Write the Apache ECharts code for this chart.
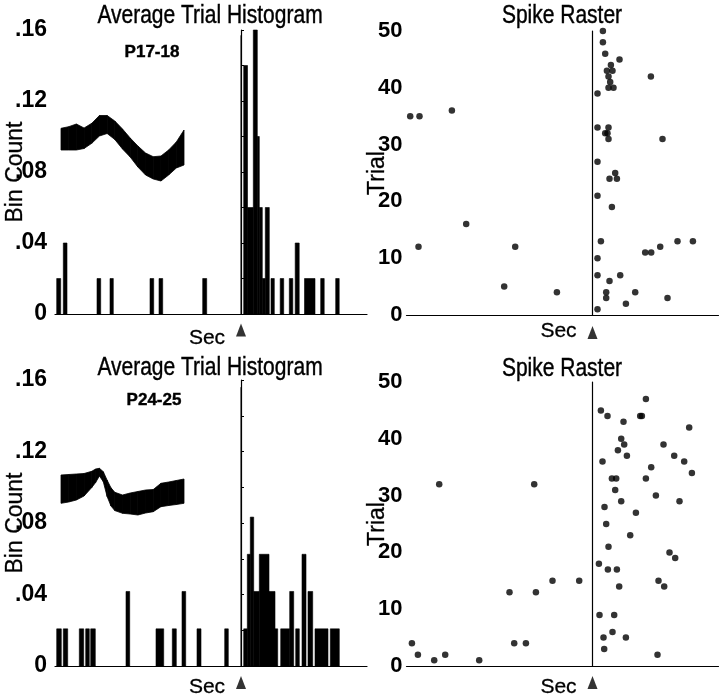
<!DOCTYPE html>
<html>
<head>
<meta charset="utf-8">
<script src="https://cdn.jsdelivr.net/npm/echarts@6/dist/echarts.min.js"></script>
<style>
html,body{margin:0;padding:0;background:#fff;}
#chart{width:720px;height:700px;}
</style>
</head>
<body>
<div id="chart"></div>
<script>
// ---------- DATA ----------
// Histogram bins: [binStartSec, binEndSec, binCount]  (stimulus at 0 s)
const histTopBins = [
  [-1.843, -1.803, 0.02], [-1.777, -1.740, 0.04], [-1.440, -1.403, 0.02],
  [-1.310, -1.277, 0.02], [-0.910, -0.873, 0.02], [-0.820, -0.783, 0.02],
  [-0.383, -0.343, 0.02],
  [0.027, 0.065, 0.14], [0.065, 0.123, 0.06], [0.123, 0.163, 0.16],
  [0.163, 0.183, 0.10], [0.183, 0.213, 0.06], [0.213, 0.243, 0.02],
  [0.243, 0.283, 0.06], [0.300, 0.333, 0.02], [0.392, 0.427, 0.02],
  [0.483, 0.518, 0.02], [0.542, 0.582, 0.04], [0.635, 0.740, 0.02],
  [0.797, 0.832, 0.02], [0.947, 0.982, 0.02]
];
const histBottomBins = [
  [-1.843, -1.797, 0.0208], [-1.777, -1.733, 0.0208], [-1.617, -1.573, 0.0208],
  [-1.553, -1.517, 0.0208], [-1.503, -1.457, 0.0208], [-1.150, -1.113, 0.0417],
  [-0.850, -0.773, 0.0208], [-0.687, -0.647, 0.0208], [-0.590, -0.553, 0.0417],
  [-0.440, -0.400, 0.0208], [-0.163, -0.127, 0.0208],
  [0.027, 0.063, 0.0208], [0.063, 0.093, 0.0625], [0.093, 0.127, 0.0833],
  [0.127, 0.183, 0.0417], [0.183, 0.280, 0.0625], [0.280, 0.340, 0.0417],
  [0.340, 0.367, 0.0208], [0.397, 0.487, 0.0208], [0.487, 0.527, 0.0417],
  [0.547, 0.583, 0.0208], [0.610, 0.650, 0.0625], [0.670, 0.717, 0.0417],
  [0.740, 0.870, 0.0208], [0.893, 0.983, 0.0208]
];
// Spike raster: [timeSec, trial]
const rasterTop = [
  [-1.823, 35], [-1.730, 35], [-1.740, 12], [-1.406, 36], [-1.263, 16],
  [-0.883, 5], [-0.773, 12], [-0.356, 4],
  [0.104, 50], [0.104, 48], [0.127, 46], [0.270, 45], [0.184, 44], [0.144, 43],
  [0.200, 43], [0.160, 42], [0.177, 41], [0.160, 40], [0.210, 40], [0.050, 39],
  [0.584, 42], [0.050, 33], [0.160, 33], [0.127, 32], [0.150, 32], [0.160, 31],
  [0.700, 31], [0.050, 27], [0.227, 25], [0.170, 24], [0.244, 24], [0.050, 21],
  [0.194, 19], [0.084, 13], [0.050, 10], [0.050, 7], [0.277, 7], [0.170, 6],
  [0.137, 4], [0.137, 3], [0.334, 2], [0.427, 4], [0.050, 1], [0.527, 11],
  [0.587, 11], [0.677, 12], [0.850, 13], [1.004, 13], [0.750, 3]
];
const rasterBottom = [
  [-1.806, 4], [-1.746, 2], [-1.583, 1], [-1.473, 2], [-1.533, 32], [-1.133, 1],
  [-0.830, 13], [-0.783, 4], [-0.666, 4], [-0.583, 32], [-0.566, 13],
  [-0.400, 15], [-0.133, 15],
  [0.084, 45], [0.150, 44], [0.100, 36], [0.120, 28], [0.137, 25], [0.160, 21],
  [0.064, 18], [0.154, 17], [0.070, 9], [0.110, 5], [0.117, 3], [0.200, 6],
  [0.217, 9], [0.334, 5], [0.244, 17], [0.267, 14], [0.194, 33], [0.237, 33],
  [0.227, 31], [0.254, 38], [0.287, 40], [0.317, 39], [0.310, 43], [0.344, 37],
  [0.287, 29], [0.434, 27], [0.377, 23], [0.477, 44], [0.494, 44], [0.534, 47],
  [0.587, 35], [0.534, 33], [0.634, 30], [0.660, 15], [0.717, 14], [0.650, 2],
  [0.710, 39], [0.770, 20], [0.827, 19], [0.817, 37], [0.870, 29], [0.917, 36],
  [0.967, 42], [0.994, 34]
];
// Spike waveform insets: sample index, upper and lower envelope of overlaid traces (arb. units)
const waveTopSamples = [0, 2, 4, 6, 8, 10, 12, 14, 16, 18, 20, 22, 24, 26, 28, 30, 32];
const waveTopUpper   = [16.7, 18.3, 21, 17, 21.7, 29.5, 29.5, 24, 16, 7, -1, -8, -11.7, -11, -5, 3, 15];
const waveTopLower   = [-5, -5, -5, -3.5, 1.7, 9, 11.5, 5.5, -4, -12, -22, -30, -34, -36, -30, -23, -20];
const waveBottomSamples = [0, 2, 4, 6, 8, 9, 10, 11, 12, 13, 14, 16, 18, 20, 22, 24, 26, 28, 30, 32];
const waveBottomUpper   = [10, 10.5, 11, 11.5, 13.7, 16, 16.7, 13.3, 4.8, -2.8, -7.3, -10, -8, -6.5, -5, -4.5, 1.7, 3, 4.5, 6];
const waveBottomLower   = [-18.3, -17, -15, -11, -2.5, 2.5, 9, 3.3, -11.5, -21, -25.6, -28.3, -29, -30, -28, -26.7, -21.7, -20.5, -19.5, -18.3];
// Stimulus onset (0 s) marker extents
const stimHistTop = 0.157, stimHistBottom = 0.156, stimRasterTop = 49.7, stimRasterBottom = 49.9;
const histTicks = [0, 0.04, 0.08, 0.12, 0.16];
const rasterTicks = [0, 10, 20, 30, 40, 50];

// ---------- STYLE ----------
const F = "'Liberation Sans', Arial, Helvetica, sans-serif";
const SX = 0.84; // condensed look for horizontal captions

function histBar(params, api) {
  const p0 = api.coord([api.value(0), api.value(2)]);
  const p1 = api.coord([api.value(1), 0]);
  return {type: 'rect', shape: {x: p0[0], y: p0[1], width: p1[0] - p0[0], height: p1[1] - p0[1]},
          style: {fill: '#000', stroke: '#000', lineWidth: 0.6}};
}
function waveRender(samples, up, lo) {
  return function (params, api) {
    const i = params.dataIndex;
    if (i >= samples.length - 1) return null;
    const pts = [api.coord([samples[i], up[i]]), api.coord([samples[i + 1], up[i + 1]]),
                 api.coord([samples[i + 1], lo[i + 1]]), api.coord([samples[i], lo[i]])];
    return {type: 'polygon', shape: {points: pts}, style: {fill: '#000', stroke: '#000', lineWidth: 0.8}};
  };
}

const G = {outerBoundsMode: 'none', containLabel: false, show: false};
const grids = [
  Object.assign({left: 55, top: 30, width: 312, height: 284}, G),      // 0 hist top
  Object.assign({left: 406.5, top: 31, width: 312, height: 284}, G),   // 1 raster top
  Object.assign({left: 55, top: 380, width: 312, height: 286}, G),     // 2 hist bottom
  Object.assign({left: 406.5, top: 382, width: 312, height: 284}, G),  // 3 raster bottom
  Object.assign({left: 61, top: 105, width: 123, height: 80}, G),      // 4 inset top
  Object.assign({left: 61, top: 445, width: 123, height: 80}, G)       // 5 inset bottom
];

function xAx(gi, gap) {
  return {gridIndex: gi, type: 'value', min: -1.86, max: 1.26,
    axisLine: {show: true, lineStyle: {color: '#000', width: 1.2}},
    axisTick: {show: false}, axisLabel: {show: false}, splitLine: {show: false},
    name: 'Sec', nameLocation: 'middle', nameGap: gap, nameMoveOverlap: false,
    nameTextStyle: {fontFamily: F, fontSize: 21, color: '#000', padding: [0, 8, 0, 0],
      textBorderColor: '#000', textBorderWidth: 0.3}};
}
function yHist(gi) {
  return {gridIndex: gi, type: 'value', min: 0, max: 0.16, interval: 0.02,
    axisLine: {show: true, lineStyle: {color: '#000', width: 1.2}},
    axisTick: {show: true, inside: true, length: 3, lineStyle: {color: '#000'}},
    splitLine: {show: false},
    axisLabel: {margin: 8, fontFamily: F, fontWeight: 'bold', fontSize: 23, color: '#000',
      formatter: function (v) {
        const k = Math.round(v * 100);
        if (!histTicks.some(t => Math.round(t * 100) === k)) return '';
        return k === 0 ? '0' : '.' + (k < 10 ? '0' + k : k);
      }},
    name: 'Bin Count', nameLocation: 'middle', nameGap: 28, nameMoveOverlap: false,
    nameTextStyle: {fontFamily: F, fontSize: 23, color: '#000', textBorderColor: '#000', textBorderWidth: 0.3}};
}
function yRaster(gi) {
  return {gridIndex: gi, type: 'value', min: 0, max: 50, interval: 10,
    axisLine: {show: true, lineStyle: {color: '#000', width: 1.2}},
    axisTick: {show: false}, splitLine: {show: false},
    axisLabel: {margin: 4, fontFamily: F, fontWeight: 'bold', fontSize: 22, color: '#000',
      formatter: v => rasterTicks.includes(v) ? String(v) : ''},
    name: 'Trial', nameLocation: 'middle', nameGap: 17, nameMoveOverlap: false,
    nameTextStyle: {fontFamily: F, fontSize: 23, color: '#000', textBorderColor: '#000', textBorderWidth: 0.3}};
}
function insetX(gi) { return {gridIndex: gi, type: 'value', min: 0, max: 32, show: false}; }
function insetY(gi) { return {gridIndex: gi, type: 'value', min: -40, max: 40, show: false}; }

function stimLine(ai, top) {
  return {type: 'line', xAxisIndex: ai, yAxisIndex: ai, data: [[0, 0], [0, top]],
    symbol: 'none', lineStyle: {color: '#000', width: 1}, silent: true, z: 3};
}
function stimTriangle(ai, below) {
  return {type: 'scatter', xAxisIndex: ai, yAxisIndex: ai, data: [[0, below]], clip: false,
    symbol: 'triangle', symbolSize: [10, 13], itemStyle: {color: '#000'}, silent: true};
}
function caption(text, x, y, size, weight, sx) {
  return {type: 'text', x: x, y: y, scaleX: sx, style: {text: text, fontFamily: F, fontSize: size,
    fontWeight: weight, fill: '#000', stroke: '#000', lineWidth: 0.4,
    textAlign: 'center', textVerticalAlign: 'top'}};
}

const option = {
  animation: false,
  backgroundColor: '#fff',
  grid: grids,
  xAxis: [xAx(0, 14), xAx(1, 6), xAx(2, 11), xAx(3, 11), insetX(4), insetX(5)],
  yAxis: [yHist(0), yRaster(1), yHist(2), yRaster(3), insetY(4), insetY(5)],
  series: [
    {type: 'custom', xAxisIndex: 0, yAxisIndex: 0, data: histTopBins, renderItem: histBar,
     encode: {x: [0, 1], y: 2}},
    {type: 'custom', xAxisIndex: 2, yAxisIndex: 2, data: histBottomBins, renderItem: histBar,
     encode: {x: [0, 1], y: 2}},
    {type: 'scatter', xAxisIndex: 1, yAxisIndex: 1, data: rasterTop, symbolSize: 6.5,
     itemStyle: {color: '#000'}},
    {type: 'scatter', xAxisIndex: 3, yAxisIndex: 3, data: rasterBottom, symbolSize: 6.5,
     itemStyle: {color: '#000'}},
    {type: 'custom', xAxisIndex: 4, yAxisIndex: 4,
     data: waveTopSamples.map((s, i) => [s, waveTopUpper[i], waveTopLower[i]]),
     renderItem: waveRender(waveTopSamples, waveTopUpper, waveTopLower), encode: {x: 0, y: [1, 2]}},
    {type: 'custom', xAxisIndex: 5, yAxisIndex: 5,
     data: waveBottomSamples.map((s, i) => [s, waveBottomUpper[i], waveBottomLower[i]]),
     renderItem: waveRender(waveBottomSamples, waveBottomUpper, waveBottomLower), encode: {x: 0, y: [1, 2]}},
    stimLine(0, stimHistTop), stimLine(1, stimRasterTop), stimLine(2, stimHistBottom), stimLine(3, stimRasterBottom),
    stimTriangle(0, -0.0090), stimTriangle(1, -3.1), stimTriangle(2, -0.0092), stimTriangle(3, -2.9)
  ],
  graphic: [
    caption('Average Trial Histogram', 210, 4, 25, 'normal', SX),
    caption('Spike Raster', 562, 4, 25, 'normal', SX),
    caption('Average Trial Histogram', 210, 356, 25, 'normal', SX),
    caption('Spike Raster', 562, 357, 25, 'normal', SX),
    caption('P17-18', 152, 44, 17, 'bold', 1),
    caption('P24-25', 154, 392, 17, 'bold', 1)
  ]
};
const chart = echarts.init(document.getElementById('chart'), null, {renderer: 'canvas'});
chart.setOption(option);
</script>
</body>
</html>
